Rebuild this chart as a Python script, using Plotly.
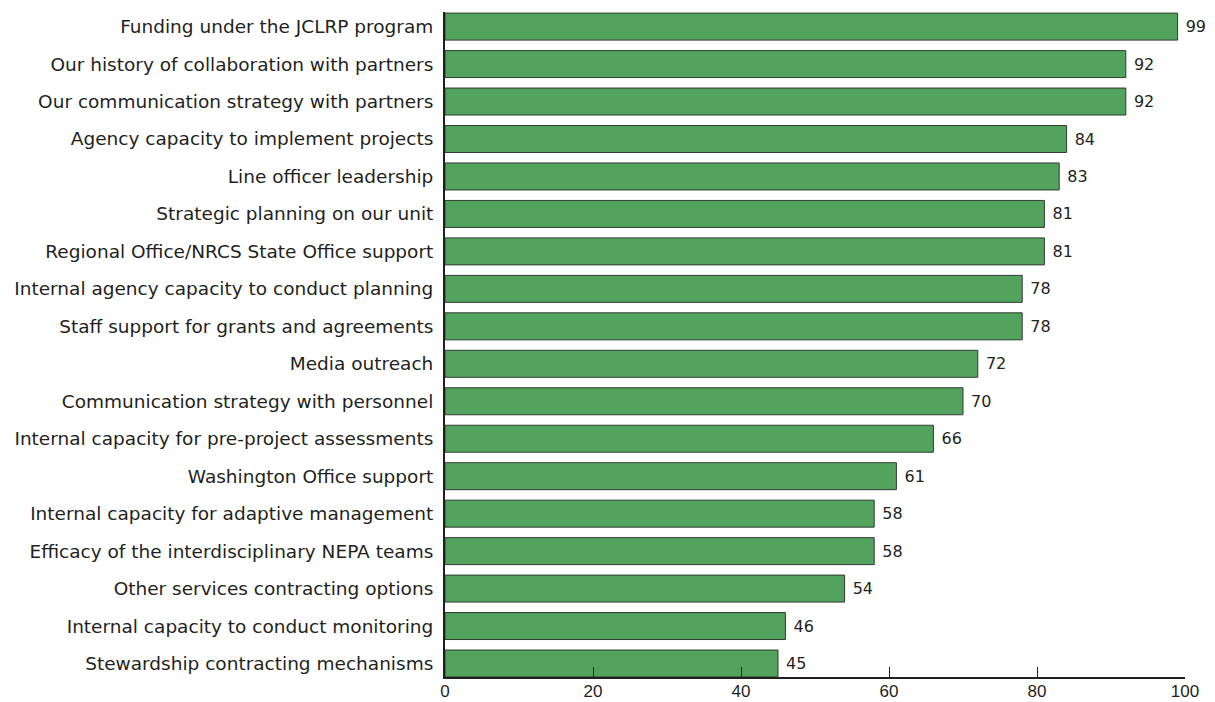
import plotly.graph_objects as go

categories = [
    "Funding under the JCLRP program",
    "Our history of collaboration with partners",
    "Our communication strategy with partners",
    "Agency capacity to implement projects",
    "Line officer leadership",
    "Strategic planning on our unit",
    "Regional Office/NRCS State Office support",
    "Internal agency capacity to conduct planning",
    "Staff support for grants and agreements",
    "Media outreach",
    "Communication strategy with personnel",
    "Internal capacity for pre-project assessments",
    "Washington Office support",
    "Internal capacity for adaptive management",
    "Efficacy of the interdisciplinary NEPA teams",
    "Other services contracting options",
    "Internal capacity to conduct monitoring",
    "Stewardship contracting mechanisms",
]
values = [99, 92, 92, 84, 83, 81, 81, 78, 78, 72, 70, 66, 61, 58, 58, 54, 46, 45]
x_ticks = [0, 20, 40, 60, 80, 100]

cats_r = categories[::-1]
vals_r = values[::-1]

fig = go.Figure(go.Bar(
    y=cats_r, x=vals_r, orientation="h",
    marker=dict(color="#52a35e", line=dict(color="#2f3a30", width=1)),
    width=0.72,
    texttemplate=" %{x}", textposition="outside",
    textfont=dict(family="DejaVu Sans, Verdana, sans-serif", size=16, color="#231f20"),
    cliponaxis=False,
))

fig.update_layout(
    width=1215, height=702,
    margin=dict(l=445, r=30, t=12, b=25),
    plot_bgcolor="white", paper_bgcolor="white",
    showlegend=False,
    font=dict(family="DejaVu Sans, sans-serif", color="#231f20"),
)
fig.update_xaxes(
    range=[0, 100], tickvals=x_ticks, ticks="inside", ticklen=10, tickcolor="#231f20",
    showline=True, linecolor="#231f20", linewidth=1.5, showgrid=False, zeroline=False,
    tickfont=dict(family="Liberation Sans, Arial, sans-serif", size=17), automargin=False,
    ticklabelstandoff=-2, fixedrange=True,
)
fig.update_yaxes(
    range=[-0.36, 17.39], showline=True, linecolor="#231f20", linewidth=2,
    showgrid=False, ticks="", ticklabelstandoff=6, tickfont=dict(size=18.5),
    automargin=False,
)

fig.write_html("out.html", config={"displayModeBar": False},
               post_script="document.body.style.margin='0';")
